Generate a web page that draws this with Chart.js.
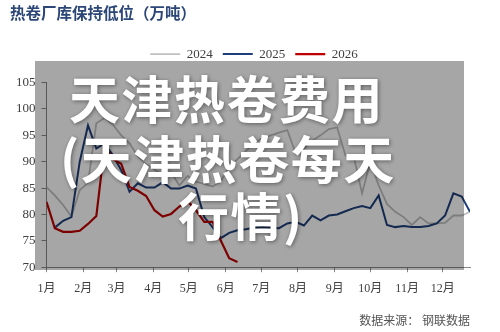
<!DOCTYPE html>
<html lang="zh">
<head>
    <meta charset="UTF-8">
    <title>热卷厂库保持低位</title>
    <script src="https://cdn.jsdelivr.net/npm/chart.js"></script>
    <style>
        body {
            margin: 0;
            background: #ffffff;
        }
        .container {
            width: 500px;
            height: 332px;
        }
    </style>
</head>
<body>
    <div class="container">
        <canvas id="kuCunChart"></canvas>
    </div>

    <script>
        // 周度数据（万吨），每周一个点，第0周 = 1月1日
        const months = ['1月', '2月', '3月', '4月', '5月', '6月', '7月', '8月', '9月', '10月', '11月', '12月'];
        const monthStartDays = [0, 31, 59, 90, 120, 151, 181, 212, 243, 273, 304, 334];
        const yTicks = [70, 75, 80, 85, 90, 95, 100, 105];

        const s2024 = [85.2, 83.6, 81.8, 79.6, 84.6, 86.0, 97.3, 98.3, 97.0, 95.0, 93.5, 91.0,
                       89.5, 88.5, 87.5, 88.0, 85.5, 87.3, 86.2, 85.8, 85.3, 86.3, 89.0, 90.5,
                       92.0, 93.5, 94.5, 95.0, 95.5, 96.0, 91.6, 92.5, 94.0, 95.0, 96.2, 96.5,
                       91.2, 91.0, 84.0, 90.0, 85.5, 82.0, 80.5, 79.5, 78.0, 79.5, 78.3, 78.3,
                       78.4, 79.8, 79.8, 80.5];
        const s2025 = [null, 77.5, 78.8, 79.5, 90.0, 96.9, 92.5, 93.5, 91.2, 88.4, 84.3, 85.9,
                       85.1, 85.1, 86.1, 84.9, 84.9, 85.5, 84.9, 79.5, 77.6, 75.5, 76.5, 77.0,
                       77.2, 77.5, 77.6, 77.5, 77.4, 78.3, 78.6, 77.9, 79.8, 78.9, 79.8, 80.0,
                       80.6, 81.2, 81.6, 81.2, 83.6, 78.0, 77.6, 77.8, 77.6, 77.6, 77.8, 78.3,
                       79.8, 84.0, 83.4, 80.5];
        const s2026 = [82.4, 77.4, 76.7, 76.7, 76.9, 78.2, 79.7, 93.0, 90.5, 89.6, 85.2, 84.5,
                       83.5, 80.8, 79.6, 80.1, 81.5, 82.5, 80.8, 78.6, 78.6, 75.0, 71.7, 71.0];

        const overlayLines = ['天津热卷费用', '(天津热卷每天', '行情)'];

        function toPoints(arr) {
            return arr.map((v, i) => ({ x: i * 7, y: v }));
        }

        // 图例下面多留一点空，并稍微往右挪
        const legendGap = {
            id: 'legendGap',
            beforeInit(chart) {
                const fit = chart.legend.fit;
                chart.legend.fit = function () {
                    fit.bind(this)();
                    this.height += 12;
                };
            },
            afterLayout(chart) {
                chart.legend.left += 14;
                chart.legend.right += 14;
            }
        };

        // 半透明遮罩 + 白色大字
        const overlayPlugin = {
            id: 'overlay',
            afterDraw(chart) {
                const ctx = chart.ctx;
                ctx.save();
                ctx.fillStyle = 'rgba(0, 0, 0, 0.35)';
                ctx.fillRect(35, 61, 429, 209);
                ctx.font = 'bold 51px "Noto Sans CJK SC"';
                ctx.letterSpacing = '1.5px';
                ctx.fillStyle = '#ffffff';
                ctx.textBaseline = 'middle';
                ctx.shadowColor = 'rgba(0, 0, 0, 0.45)';
                ctx.shadowBlur = 4;
                ctx.shadowOffsetX = 1;
                ctx.shadowOffsetY = 1;
                ctx.fillText(overlayLines[0], 69, 100);
                ctx.fillText(overlayLines[1], 60, 160);
                ctx.fillText(overlayLines[2], 178, 217);
                ctx.restore();
            }
        };

        const serif = '"Liberation Serif", "Noto Sans CJK SC", serif';

        new Chart(document.getElementById('kuCunChart'), {
            type: 'line',
            data: {
                datasets: [
                    {
                        label: '2024',
                        data: toPoints(s2024),
                        borderColor: '#c0c0c0',
                        backgroundColor: '#c0c0c0',
                        borderWidth: 1.8,
                        order: 3
                    },
                    {
                        label: '2025',
                        data: toPoints(s2025),
                        borderColor: '#1f3f7a',
                        backgroundColor: '#1f3f7a',
                        borderWidth: 2,
                        order: 2
                    },
                    {
                        label: '2026',
                        data: toPoints(s2026),
                        borderColor: '#c00000',
                        backgroundColor: '#c00000',
                        borderWidth: 2.2,
                        order: 1
                    }
                ]
            },
            options: {
                responsive: true,
                maintainAspectRatio: false,
                animation: false,
                spanGaps: false,
                elements: {
                    point: { radius: 0 },
                    line: { tension: 0 }
                },
                layout: {
                    padding: { left: 10, right: 30, top: 4, bottom: 4 }
                },
                plugins: {
                    title: {
                        display: true,
                        text: '热卷厂库保持低位（万吨）',
                        align: 'start',
                        color: '#2b4677',
                        font: { family: '"Noto Sans CJK SC"', size: 15.5, weight: 'bold' },
                        padding: { top: 0, bottom: 15 }
                    },
                    legend: {
                        display: true,
                        position: 'top',
                        labels: {
                            usePointStyle: true,
                            pointStyle: 'line',
                            pointStyleWidth: 30,
                            color: '#404040',
                            font: { family: serif, size: 13 },
                            padding: 10,
                            sort: (a, b) => a.datasetIndex - b.datasetIndex
                        }
                    },
                    subtitle: {
                        display: true,
                        position: 'bottom',
                        align: 'end',
                        text: '数据来源： 钢联数据',
                        color: '#555555',
                        font: { family: '"Noto Sans CJK SC"', size: 12 },
                        padding: { top: 9, bottom: 0 }
                    },
                    tooltip: { enabled: false }
                },
                scales: {
                    x: {
                        type: 'linear',
                        min: 0,
                        max: 357,
                        afterBuildTicks: (axis) => {
                            axis.ticks = monthStartDays.map(d => ({ value: d }));
                        },
                        ticks: {
                            autoSkip: false,
                            maxRotation: 0,
                            color: '#404040',
                            font: { family: serif, size: 12 },
                            padding: 9,
                            callback: (value) => months[monthStartDays.indexOf(value)]
                        },
                        grid: {
                            drawOnChartArea: false,
                            tickLength: 5,
                            color: '#888888'
                        },
                        border: { color: '#888888' }
                    },
                    y: {
                        min: 70,
                        max: 105,
                        afterBuildTicks: (axis) => {
                            axis.ticks = yTicks.map(v => ({ value: v }));
                        },
                        ticks: {
                            color: '#404040',
                            font: { family: serif, size: 13 },
                            padding: 6
                        },
                        grid: {
                            drawOnChartArea: false,
                            tickLength: 5,
                            color: '#888888'
                        },
                        border: { color: '#888888' }
                    }
                }
            },
            plugins: [legendGap, overlayPlugin]
        });
    </script>
</body>
</html>
